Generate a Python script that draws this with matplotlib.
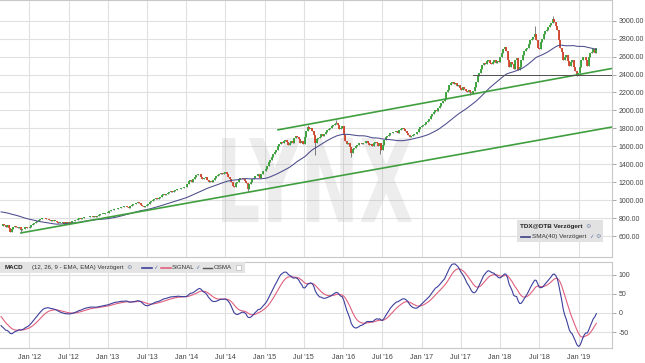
import numpy as np
import pandas as pd
import matplotlib
matplotlib.use('Agg')
import matplotlib.pyplot as plt
import matplotlib.dates as mdates
from matplotlib.patches import PathPatch, Rectangle
from matplotlib.textpath import TextPath
from matplotlib.font_manager import FontProperties
from matplotlib.transforms import Affine2D, IdentityTransform
from matplotlib.lines import Line2D

# ---------------- data ----------------
first_week = '2011-08-22'
prior_closes = [825, 830, 838, 845, 852, 856, 860, 864, 870, 876, 882, 888, 896, 905, 914, 908,
                878, 842, 862, 878, 892, 904, 914, 922, 930, 934, 924, 910, 896, 882, 886, 892,
                900, 894, 880, 858, 800, 742, 708]
closes_2011 = [712, 738, 720, 696, 726, 690, 650, 674, 704, 716, 700, 692, 704, 664, 676, 682, 698, 690, 688]
closes_2012 = [706, 722, 736, 748, 754, 770, 784, 792, 798, 806, 798, 788, 794, 780, 766, 782, 770, 772,
               760, 746, 750, 742, 752, 738, 752, 746, 756, 748, 768, 762, 776, 782, 790, 796, 788,
               800, 812, 808, 816, 810, 822, 818, 812, 820, 816, 828, 836, 842, 846, 850, 856, 858, 862]
closes_2013 = [876, 886, 892, 898, 906, 898, 910, 916, 926, 918, 930, 936, 928, 914, 930, 946, 952,
               962, 970, 976, 964, 950, 934, 920, 930, 946, 962, 984, 994, 1000, 1010, 1020, 1014, 1026,
               1040, 1054, 1066, 1060, 1070, 1080, 1092, 1100, 1094, 1106, 1114, 1120, 1126,
               1120, 1130, 1138, 1146, 1150]
closes_2014 = [1182, 1216, 1226, 1204, 1234, 1260, 1276, 1290, 1296, 1262, 1230, 1246, 1256,
               1226, 1200, 1216, 1206, 1226, 1250, 1266, 1280, 1296, 1306, 1290, 1300, 1312,
               1290, 1262, 1240, 1200, 1160, 1146, 1186, 1200, 1230, 1246, 1252, 1240, 1212,
               1186, 1122, 1176, 1200, 1232, 1250, 1270, 1266, 1290, 1250, 1286, 1320, 1330]
closes_2015 = [1342, 1382, 1422, 1450, 1482, 1510, 1542, 1562, 1602, 1630, 1652, 1640, 1662,
               1666, 1650, 1620, 1642, 1660, 1642, 1690, 1720, 1702, 1680, 1640, 1662, 1622,
               1702, 1770, 1810, 1790, 1800, 1770, 1722, 1640, 1680, 1690, 1702, 1740, 1720,
               1740, 1760, 1782, 1790, 1802, 1822, 1840, 1852, 1862, 1832, 1790, 1800, 1822]
closes_2016 = [1722, 1660, 1622, 1632, 1592, 1522, 1572, 1582, 1600, 1620, 1632, 1642, 1622,
               1632, 1642, 1662, 1632, 1612, 1622, 1602, 1642, 1652, 1642, 1602, 1632, 1562,
               1612, 1672, 1702, 1712, 1722, 1752, 1746, 1756, 1762, 1772, 1752, 1782, 1792,
               1802, 1792, 1772, 1752, 1722, 1702, 1712, 1722, 1732, 1742, 1762, 1792, 1812]
closes_2017 = [1822, 1842, 1852, 1872, 1882, 1902, 1942, 1962, 1982, 2002, 1992, 2022, 2052,
               2082, 2102, 2122, 2202, 2232, 2282, 2302, 2312, 2292, 2302, 2272, 2282, 2252,
               2232, 2262, 2242, 2222, 2202, 2232, 2202, 2192, 2222, 2262, 2322, 2382, 2422,
               2462, 2502, 2532, 2522, 2552, 2562, 2532, 2522, 2542, 2562, 2532, 2552, 2542]
closes_2018 = [2592, 2642, 2682, 2702, 2662, 2562, 2482, 2542, 2522, 2462, 2560, 2580, 2450,
               2480, 2560, 2620, 2660, 2680, 2700, 2740, 2780, 2800, 2820, 2850, 2790, 2700,
               2680, 2760, 2800, 2850, 2880, 2900, 2930, 2950, 2980, 3020, 2990, 2940, 2900,
               2780, 2700, 2650, 2560, 2600, 2620, 2550, 2500, 2540, 2560, 2480, 2440, 2400, 2420]
closes_2019 = [2480, 2560, 2600, 2590, 2560, 2500, 2600, 2640, 2650, 2680, 2640, 2700]

wick_lows = {'2011-11-21': 636, '2014-10-13': 1092, '2015-08-24': 1500, '2016-02-08': 1478,
             '2016-06-20': 1510, '2017-08-14': 2170, '2018-12-24': 2380}
wick_highs = {'2015-07-20': 1832, '2015-11-30': 1888, '2018-06-11': 2944, '2018-09-03': 3050}

trend_low = (['2011-11-19', '2019-06-06'], [633, 1815])
trend_high = (['2015-02-28', '2019-06-06'], [1782, 2468])
support = (['2017-08-28', '2019-06-06'], [2400, 2400])

price_ticks = [600, 800, 1000, 1200, 1400, 1600, 1800, 2000, 2200, 2400, 2600, 2800, 3000]
macd_ticks = [-50, 0, 50, 100]
x_tick_dates = ['2012-01-01', '2012-07-01', '2013-01-01', '2013-07-01', '2014-01-01', '2014-07-01',
                '2015-01-01', '2015-07-01', '2016-01-01', '2016-07-01', '2017-01-01', '2017-07-01',
                '2018-01-01', '2018-07-01', '2019-01-01']
x_tick_labels = ["Jan '12", "Jul '12", "Jan '13", "Jul '13", "Jan '14", "Jul '14", "Jan '15", "Jul '15",
                 "Jan '16", "Jul '16", "Jan '17", "Jul '17", "Jan '18", "Jul '18", "Jan '19"]
x_range = ['2011-08-17', '2019-06-06']

# ---------------- derived ----------------
closes = (closes_2011 + closes_2012 + closes_2013 + closes_2014 + closes_2015 +
          closes_2016 + closes_2017 + closes_2018 + closes_2019)
dates = pd.date_range(first_week, periods=len(closes), freq='7D')
xd = mdates.date2num(dates.to_pydatetime())
all_c = pd.Series(prior_closes + closes, dtype=float)
n0 = len(prior_closes)
opens = all_c.shift(1).values[n0:]
c = np.array(closes, dtype=float)
body_lo = np.minimum(opens, c)
body_hi = np.maximum(opens, c)
lows = body_lo.copy()
highs = body_hi.copy()
for d, v in wick_lows.items():
    lows[dates.get_loc(pd.Timestamp(d))] = v
for d, v in wick_highs.items():
    highs[dates.get_loc(pd.Timestamp(d))] = v
up = c >= opens
sma = all_c.rolling(40).mean().values[n0:]
ema12 = all_c.ewm(span=12, adjust=False).mean()
ema26 = all_c.ewm(span=26, adjust=False).mean()
macd = (ema12 - ema26)
signal = macd.ewm(span=9, adjust=False).mean()
macd = macd.values[n0:]
signal = signal.values[n0:]

def dn(s):
    return mdates.date2num(pd.to_datetime(s).to_pydatetime())

# ---------------- figure ----------------
W, H = 645, 363
fig = plt.figure(figsize=(W / 100, H / 100), dpi=100)
fig.patch.set_facecolor('white')
FONT = 'Liberation Sans'
plt.rcParams['font.family'] = [FONT, 'DejaVu Sans']

ax1 = fig.add_axes([0, 1 - 257 / H, 612 / W, 257 / H])
ax2 = fig.add_axes([0, 1 - 348 / H, 612 / W, 86 / H])

grid_c = '#e0e0e0'
for ax in (ax1, ax2):
    ax.set_xlim(dn(x_range[0]), dn(x_range[1]))
    ax.set_axisbelow(True)
    ax.set_xticks([dn(d) for d in x_tick_dates])
    ax.grid(True, color=grid_c, lw=0.8)
    ax.yaxis.tick_right()
    for s in ax.spines.values():
        s.set_color('#c8c8c8')
        s.set_linewidth(0.8)
    ax.spines['left'].set_visible(False)
    ax.tick_params(axis='y', labelsize=5, colors='#999999', labelcolor='#444444', length=3, pad=2, width=0.6)
    ax.tick_params(axis='x', labelsize=5.2, colors='#bbbbbb', labelcolor='#444444', length=0, pad=4)

ax1.set_ylim(366, 3231)
ax1.set_yticks(price_ticks)
ax1.set_yticklabels([f'{v:.2f}' for v in price_ticks])
ax1.set_xticklabels([])

ax2.set_ylim(-92, 134)
ax2.set_yticks(macd_ticks)
ax2.set_yticklabels([str(v) for v in macd_ticks])
ax2.set_xticklabels(x_tick_labels)

# watermark
tp = TextPath((0, 0), 'LYNX', size=100, prop=FontProperties(family='DejaVu Sans', weight='bold'))
bb = tp.get_extents()
x0, x1 = 222, 412
y0, y1 = H - 222, H - 138
tr = Affine2D().translate(-bb.x0, -bb.y0).scale((x1 - x0) / bb.width, (y1 - y0) / bb.height).translate(x0, y0)
wm = PathPatch(tp, transform=tr + IdentityTransform(), facecolor='#a8a8a8', edgecolor='none', alpha=0.2, zorder=1)
ax1.add_artist(wm)

# candles
green = '#35a035'
red = '#d4442c'
cols = np.where(up, green, red)
ax1.vlines(xd, lows, highs, colors='#3a3a3a', lw=0.45, zorder=3)
ax1.vlines(xd, body_lo, np.maximum(body_hi, body_lo + 5), colors=cols, lw=1.3, zorder=4)

# SMA
ax1.plot(xd, sma, color='#4b4b8c', lw=0.75, zorder=5)

# trend lines
tl_c = '#3f9f3f'
ax1.plot([dn(d) for d in trend_low[0]], trend_low[1], color=tl_c, lw=1.2, zorder=6, solid_capstyle='butt')
ax1.plot([dn(d) for d in trend_high[0]], trend_high[1], color=tl_c, lw=1.2, zorder=6, solid_capstyle='butt')
ax1.plot([dn(d) for d in support[0]], support[1], color='#505050', lw=0.7, zorder=6)

# MACD
ax2.plot(xd, macd, color='#3d3f9c', lw=0.8, zorder=4)
ax2.plot(xd, signal, color='#e0607e', lw=0.8, zorder=3)

# ---------------- legends ----------------
def fx(x):
    return x / W

def fy(y):
    return 1 - y / H

# price legend
fig.add_artist(Rectangle((fx(517), fy(242)), fx(86), 22 / H, transform=fig.transFigure,
                         facecolor='#e2e2e2', edgecolor='none', zorder=10))
fig.text(fx(520), fy(226.5), 'TDX@DTB Verzögert', fontsize=4.6, fontweight='bold', color='#222222',
         va='center', ha='left', zorder=11)
fig.text(fx(588), fy(226.5), '⚙', fontsize=4.5, color='#7a8aa8', va='center', ha='center', zorder=11,
         family='DejaVu Sans')
fig.add_artist(Line2D([fx(521), fx(530)], [fy(236.5), fy(236.5)], transform=fig.transFigure,
                      color='#4b4b8c', lw=1.3, zorder=11))
fig.text(fx(532), fy(236.5), 'SMA(40) Verzögert', fontsize=4.6, color='#333333', va='center', ha='left', zorder=11)
fig.text(fx(591), fy(236.5), '✓', fontsize=4, color='#5a6fb0', va='center', ha='center', zorder=11,
         family='DejaVu Sans')
fig.text(fx(598), fy(236.5), '⚙', fontsize=4.5, color='#7a8aa8', va='center', ha='center', zorder=11,
         family='DejaVu Sans')

# MACD header
fig.add_artist(Rectangle((fx(0), fy(273)), fx(245), 11 / H, transform=fig.transFigure,
                         facecolor='#e4e4e4', edgecolor='none', zorder=10))
hy = fy(267.5)
fig.text(fx(5), hy, 'MACD', fontsize=4.5, fontweight='bold', color='#222222', va='center', ha='left', zorder=11)
fig.text(fx(32), hy, '(12, 26, 9 - EMA, EMA) Verzögert', fontsize=4.4, color='#333333', va='center',
         ha='left', zorder=11)
fig.text(fx(129), hy, '⚙', fontsize=4.5, color='#7a8aa8', va='center', ha='center', zorder=11, family='DejaVu Sans')
fig.add_artist(Line2D([fx(142), fx(152)], [hy, hy], transform=fig.transFigure, color='#3d3f9c', lw=1.2, zorder=11))
fig.text(fx(155.5), hy, '✓', fontsize=4, color='#5a6fb0', va='center', ha='center', zorder=11, family='DejaVu Sans')
fig.add_artist(Line2D([fx(161), fx(171)], [hy, hy], transform=fig.transFigure, color='#e0607e', lw=1.2, zorder=11))
fig.text(fx(172), hy, 'SIGNAL', fontsize=4.4, color='#333333', va='center', ha='left', zorder=11)
fig.text(fx(197), hy, '✓', fontsize=4, color='#5a6fb0', va='center', ha='center', zorder=11, family='DejaVu Sans')
fig.add_artist(Line2D([fx(203), fx(212)], [hy, hy], transform=fig.transFigure, color='#555555', lw=1.0, zorder=11))
fig.text(fx(214), hy, 'OSMA', fontsize=4.4, color='#333333', va='center', ha='left', zorder=11)
fig.add_artist(Rectangle((fx(236), fy(270)), fx(5), 5 / H, transform=fig.transFigure,
                         facecolor='white', edgecolor='#bbbbbb', lw=0.5, zorder=11))

fig.savefig('out.png', dpi=100, facecolor='white')
